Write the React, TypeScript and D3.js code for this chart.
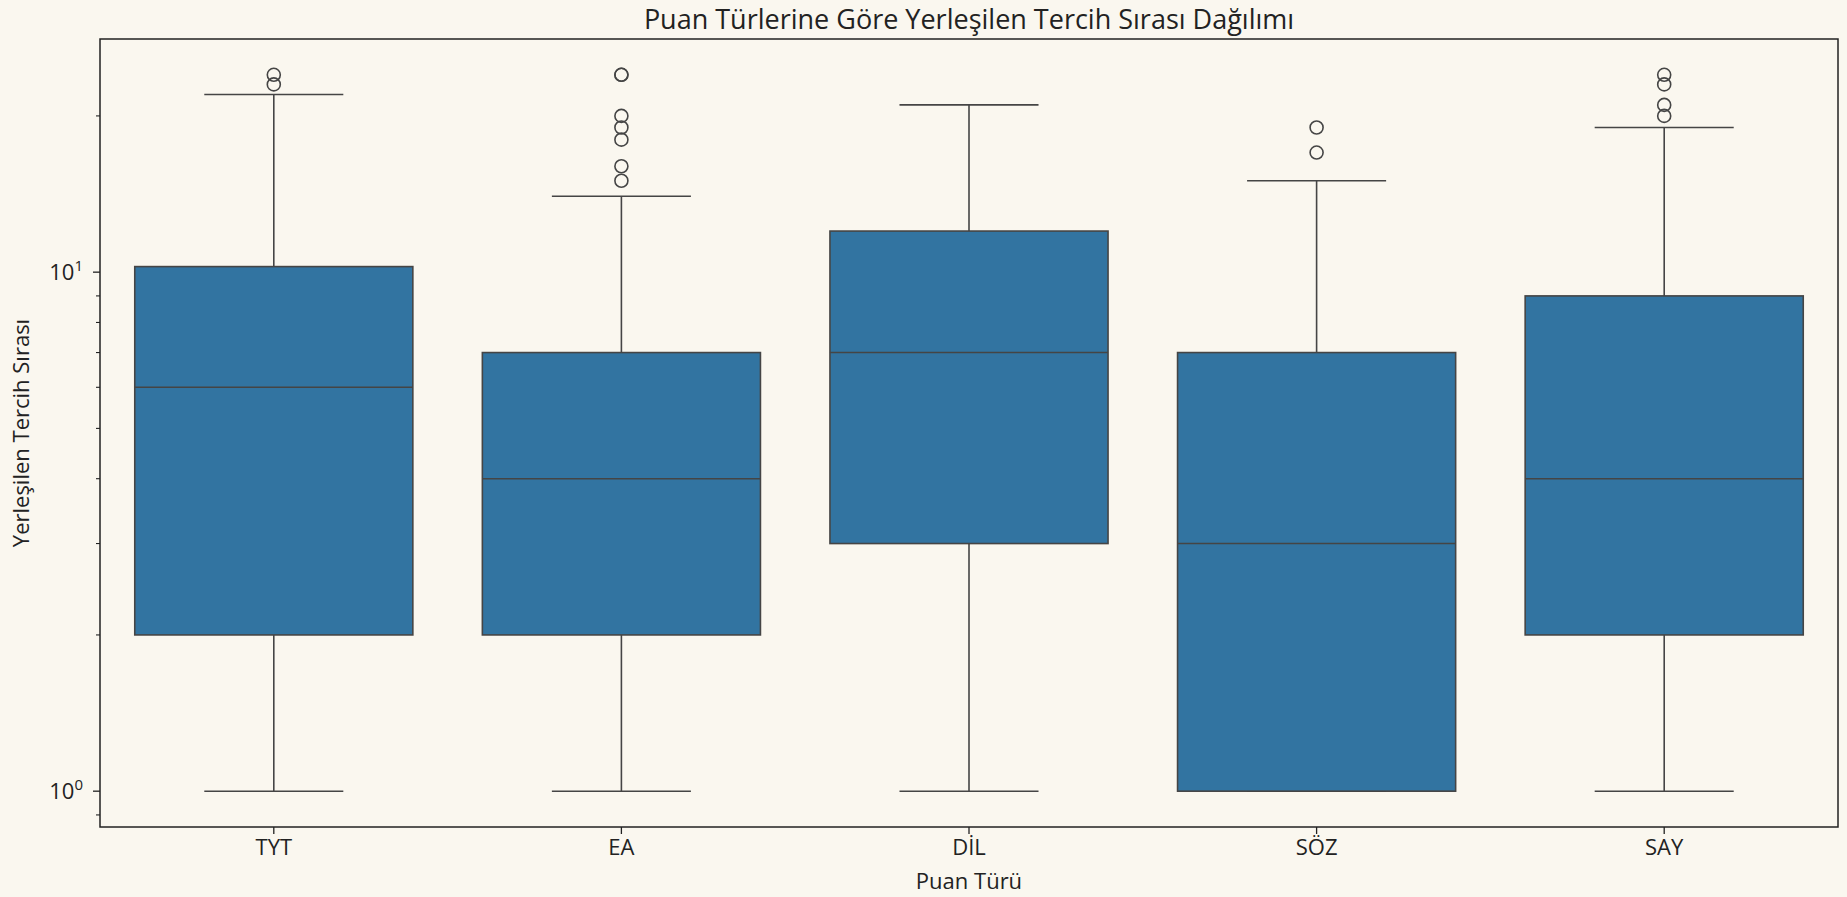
import React, { useEffect, useRef } from "react";
import * as d3 from "d3";

// Puan türleri ve kutu grafiği istatistikleri
const categories = ["TYT", "EA", "DİL", "SÖZ", "SAY"];
const whiskerLow = [1, 1, 1, 1, 1];
const q1 = [2, 2, 3, 1, 2];
const medians = [6, 4, 7, 3, 4];
const q3 = [10.25, 7, 12, 7, 9];
const whiskerHigh = [22, 14, 21, 15, 19];
const outliers = [
  [23, 24],
  [15, 16, 18, 19, 20, 24, 24],
  [],
  [17, 19],
  [20, 21, 23, 24],
];
const majorTicks = [1, 10];
const minorTicks = [0.9, 2, 3, 4, 5, 6, 7, 8, 9, 20];

const W = 1847;
const H = 897;
const M = { left: 100, right: 9, top: 39, bottom: 70 };
const BG = "#faf7ef";
const BOX = "#3274a1";
const LINE = "#454545";
const FONT = "'Open Sans', 'Noto Sans', sans-serif";

export default function App() {
  const svgRef = useRef<SVGSVGElement>(null);

  useEffect(() => {
    const svg = d3.select(svgRef.current);
    svg.selectAll("*").remove();

    const x0 = M.left;
    const x1 = W - M.right;
    const y0 = H - M.bottom;
    const y1 = M.top;

    svg.append("rect").attr("width", W).attr("height", H).attr("fill", BG);

    const x = d3.scaleBand().domain(categories).range([x0, x1]).paddingInner(0).paddingOuter(0);

    const allVals = [...whiskerLow, ...whiskerHigh, ...outliers.flat()];
    const lo = Math.log10(d3.min(allVals) as number);
    const hi = Math.log10(d3.max(allVals) as number);
    const pad = (hi - lo) * 0.05;
    const y = d3.scaleLog().domain([Math.pow(10, lo - pad), Math.pow(10, hi + pad)]).range([y0, y1]);

    const bw = x.bandwidth() * 0.8;
    const g = svg.append("g");

    categories.forEach((c, i) => {
      const cx = (x(c) as number) + x.bandwidth() / 2;
      // whiskers
      g.append("line").attr("x1", cx).attr("x2", cx)
        .attr("y1", y(whiskerLow[i])).attr("y2", y(q1[i]))
        .attr("stroke", LINE).attr("stroke-width", 1.6);
      g.append("line").attr("x1", cx).attr("x2", cx)
        .attr("y1", y(q3[i])).attr("y2", y(whiskerHigh[i]))
        .attr("stroke", LINE).attr("stroke-width", 1.6);
      [whiskerLow[i], whiskerHigh[i]].forEach((v) => {
        g.append("line").attr("x1", cx - bw / 4).attr("x2", cx + bw / 4)
          .attr("y1", y(v)).attr("y2", y(v))
          .attr("stroke", LINE).attr("stroke-width", 1.6);
      });
      // box
      g.append("rect")
        .attr("x", cx - bw / 2).attr("width", bw)
        .attr("y", y(q3[i])).attr("height", y(q1[i]) - y(q3[i]))
        .attr("fill", BOX).attr("stroke", LINE).attr("stroke-width", 1.6);
      // median
      g.append("line").attr("x1", cx - bw / 2).attr("x2", cx + bw / 2)
        .attr("y1", y(medians[i])).attr("y2", y(medians[i]))
        .attr("stroke", LINE).attr("stroke-width", 1.6);
      // outliers
      outliers[i].forEach((v) => {
        g.append("circle").attr("cx", cx).attr("cy", y(v)).attr("r", 6.5)
          .attr("fill", "none").attr("stroke", LINE).attr("stroke-width", 1.6);
      });
    });

    // axes frame
    svg.append("rect").attr("x", x0).attr("y", y1).attr("width", x1 - x0).attr("height", y0 - y1)
      .attr("fill", "none").attr("stroke", "#222").attr("stroke-width", 1.5);

    // x axis
    const xa = svg.append("g").attr("transform", `translate(0,${y0})`)
      .call(d3.axisBottom(x).tickSize(7).tickPadding(5));
    xa.select(".domain").remove();
    xa.selectAll("line").attr("stroke", "#222").attr("stroke-width", 1.3);
    xa.selectAll("text").attr("fill", "#222").style("font-family", FONT).style("font-size", "22px");

    // y axis ticks
    const ya = svg.append("g").attr("transform", `translate(${x0},0)`);
    ya.selectAll("line.minor").data(minorTicks).join("line")
      .attr("x1", -4).attr("x2", 0).attr("y1", (d) => y(d)).attr("y2", (d) => y(d))
      .attr("stroke", "#222").attr("stroke-width", 1.1);
    ya.selectAll("line.major").data(majorTicks).join("line")
      .attr("x1", -7).attr("x2", 0).attr("y1", (d) => y(d)).attr("y2", (d) => y(d))
      .attr("stroke", "#222").attr("stroke-width", 1.3);
    const lbl = ya.selectAll("text.tl").data(majorTicks).join("text")
      .attr("x", -17).attr("y", (d) => y(d) + 8)
      .attr("text-anchor", "end").attr("fill", "#222")
      .style("font-family", FONT).style("font-size", "22px");
    lbl.append("tspan").text("10");
    lbl.append("tspan").attr("dy", -9).style("font-size", "15px").text((d) => String(Math.round(Math.log10(d))));

    // title and labels
    svg.append("text").attr("x", (x0 + x1) / 2).attr("y", 29).attr("text-anchor", "middle")
      .attr("fill", "#222").style("font-family", FONT).style("font-size", "27px")
      .text("Puan Türlerine Göre Yerleşilen Tercih Sırası Dağılımı");
    svg.append("text").attr("x", (x0 + x1) / 2).attr("y", 889).attr("text-anchor", "middle")
      .attr("fill", "#222").style("font-family", FONT).style("font-size", "22px")
      .text("Puan Türü");
    svg.append("text").attr("transform", `translate(29,${(y0 + y1) / 2}) rotate(-90)`)
      .attr("text-anchor", "middle").attr("fill", "#222")
      .style("font-family", FONT).style("font-size", "22px")
      .text("Yerleşilen Tercih Sırası");
  }, []);

  return (
    <svg ref={svgRef} width={W} height={H}
      style={{ position: "absolute", left: 0, top: 0, display: "block" }} />
  );
}
